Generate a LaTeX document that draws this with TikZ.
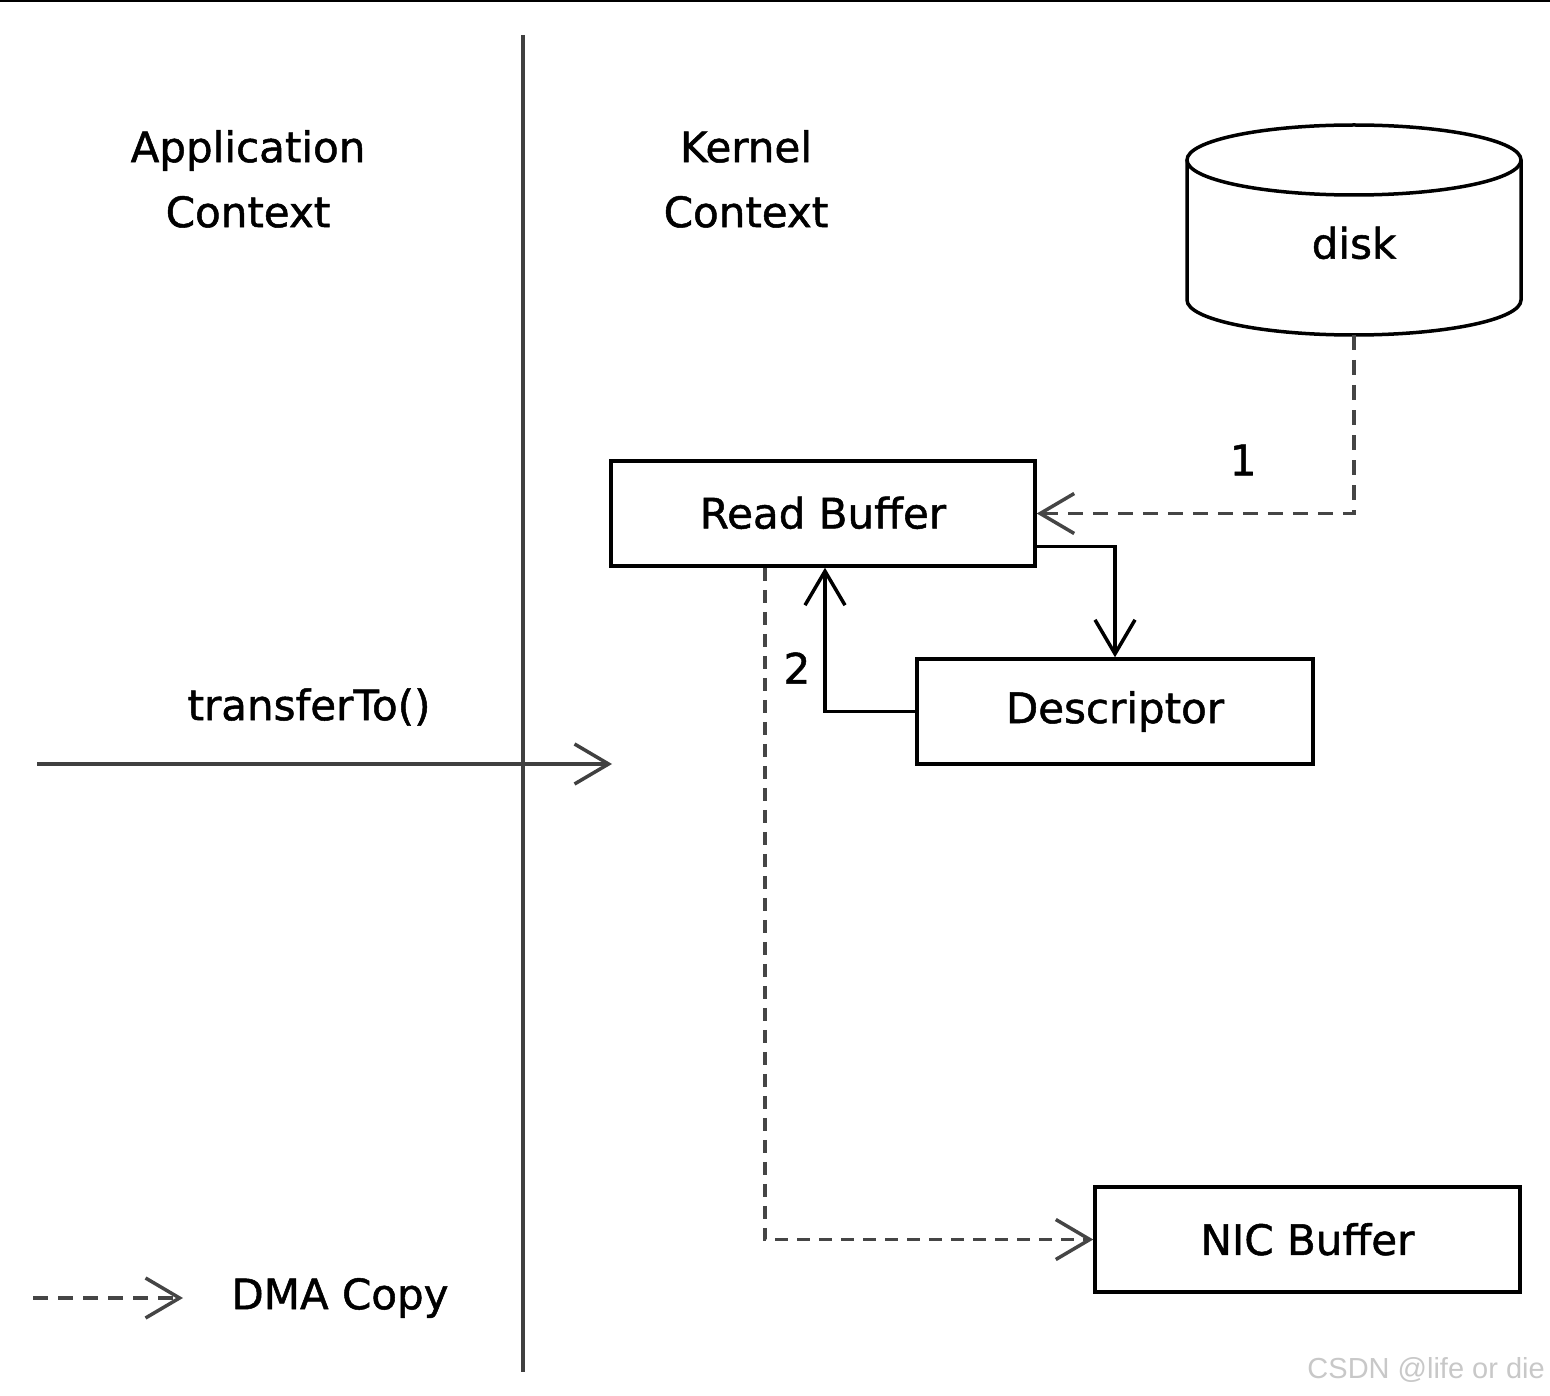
\documentclass[tikz,border=0pt]{standalone}
\usepackage{fontspec}
\setmainfont{DejaVu Sans}[FakeBold=1.2]
\newfontfamily\wmfont{Liberation Sans}
\usetikzlibrary{arrows.meta}
\definecolor{linegray}{HTML}{404040}
\definecolor{dashgray}{HTML}{454545}
\definecolor{wmgray}{HTML}{C8C8C8}
\tikzset{
  boxnode/.style={draw=black, line width=3.5pt, minimum width=424pt, minimum height=105pt, inner sep=0pt, font=\fontsize{42}{50}\selectfont},
  lbl/.style={inner sep=0pt, align=center, font=\fontsize{42}{65}\selectfont},
  opentip/.style={-{Straight Barb[length=34pt, width=40pt, line width=3.5pt]}},
  flow/.style={opentip, draw=black, line width=3.5pt},
  dma/.style={opentip, draw=dashgray, line width=3.5pt, dash pattern=on 15pt off 10pt},
}
\begin{document}
\begin{tikzpicture}[x=1pt, y=-1pt]
\useasboundingbox (0,0) rectangle (1550,1396);
\fill[black] (0,0) rectangle (1550,2);
% separator
\draw[linegray, line width=3.5pt] (523,35) -- (523,1372);
% context labels
\node[lbl] (app) at (248,179) {Application\\Context};
\node[lbl] (kern) at (746,179) {Kernel\\Context};
% disk cylinder
\draw[black, line width=3.5pt] (1354,160) ellipse [x radius=167, y radius=35];
\draw[black, line width=3.5pt] (1187,160) -- (1187,300) arc[start angle=180, end angle=360, x radius=167, y radius=-35] -- (1521,160);
\node[lbl] (disk) at (1354,243) {disk};
\coordinate (diskbot) at (1354,335);
% boxes
\node[boxnode] (rb) at (823,513.5) {\raisebox{2pt}{Read Buffer}};
\node[boxnode, minimum width=396pt] (desc) at (1115,711.5) {\raisebox{2pt}{Descriptor}};
\node[boxnode, minimum width=425pt] (nic) at (1307.5,1239.5) {\raisebox{1pt}{NIC Buffer}};
% connectors
\draw[dma] (diskbot) |- (rb.east);
\node[lbl] (one) at (1243,460) {1};
\draw[flow] ([yshift=-33pt]rb.east) -| (desc.north);
\draw[flow] (desc.west) -| ([xshift=2pt]rb.south);
\node[lbl] (two) at (797,668) {2};
\draw[dma, dash pattern=on 13pt off 9pt] ([xshift=-58pt]rb.south) |- (nic.west);
% transferTo
\coordinate (tstart) at (37,764);
\coordinate (tend) at (612,764);
\draw[opentip, draw=linegray, line width=4.5pt] (tstart) -- (tend);
\node[lbl] (tt) at (309,707) {transferTo()};
% legend
\coordinate (lstart) at (33,1298);
\coordinate (lend) at (183,1298);
\draw[dma] (lstart) -- (lend);
\node[lbl] (dmac) at (340,1298) {DMA Copy};
% watermark
\node[anchor=base east, inner sep=0pt, text=wmgray, font=\wmfont\fontsize{29}{29}\selectfont] (wm) at (1545,1378) {CSDN @life or die};
\end{tikzpicture}
\end{document}
